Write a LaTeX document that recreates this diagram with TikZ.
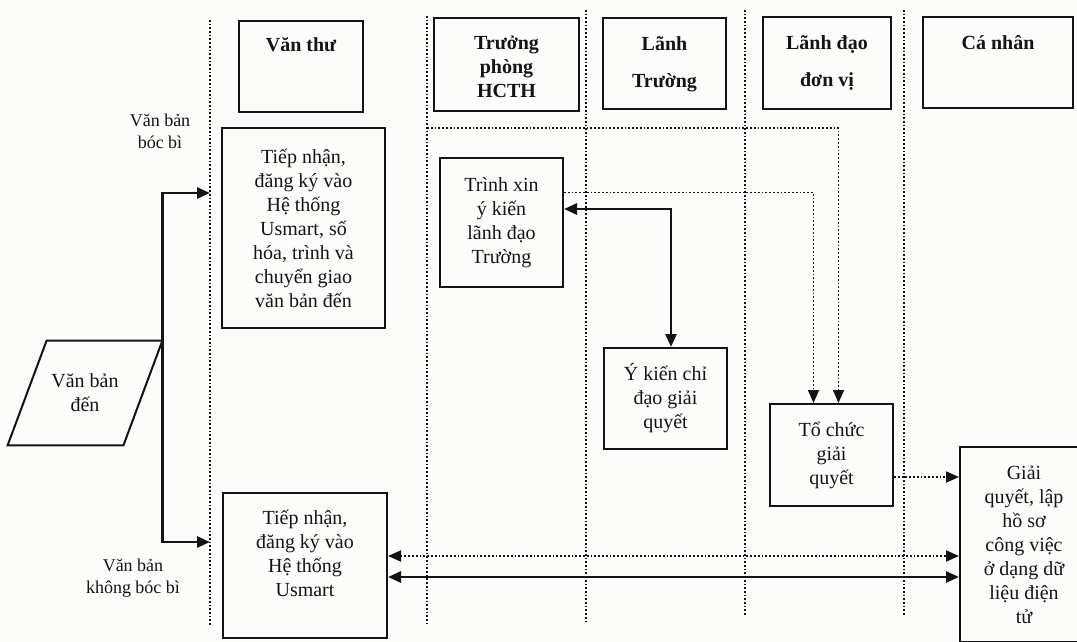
\documentclass[tikz,border=0pt]{standalone}
\usepackage{fontspec}
\setmainfont{Liberation Serif}
\usetikzlibrary{arrows.meta, positioning, calc}
\definecolor{ink}{HTML}{141414}
\definecolor{paper}{HTML}{FCFCFB}

\begin{document}
\begin{tikzpicture}[
  x=0.5pt, y=0.5pt,
  >={Triangle[length=6.5pt, width=5.5pt]},
  hdr/.style={
    draw=ink, line width=1pt, minimum width=#1, minimum height=45.5pt,
    inner sep=0pt
  },
  hdrtxt/.style={font=\fontsize{10}{12}\selectfont\bfseries, text=ink,
    align=center, inner sep=0pt},
  task/.style 2 args={
    draw=ink, line width=1pt, minimum width=#1, minimum height=#2,
    font=\fontsize{10}{12}\selectfont, text=ink, align=center, inner sep=2pt
  },
  lane/.style={ink, line width=0.85pt, densely dotted},
  arr/.style={->, line width=1.4pt, ink},
  darr/.style={->, line width=0.9pt, ink, densely dotted},
  note/.style={font=\fontsize{9}{11}\selectfont, text=ink, align=center},
]

% Background
\useasboundingbox (0,0) rectangle (1077,-642);
\fill[paper] (0,0) rectangle (1077,-642);

% Lanes
\foreach \lx/\ltop/\lbot in {210/20/625, 427/16/623, 586/10/623, 745/10/615, 904/10/615}
  \draw[lane] (\lx,-\ltop) -- (\lx,-\lbot);

% Header boxes
\node[hdr={62pt}] (h-vanthu) at (301,-66.5) {};
\node[hdrtxt, below=8.5pt of h-vanthu.north] (t-vanthu) {Văn thư};

\node[hdr={72.5pt}, minimum height=46.5pt] (h-hcth) at (506.5,-64.5) {};
\node[hdrtxt, below=9.5pt of h-hcth.north] (t-hcth) {Trưởng\\phòng\\HCTH};

\node[hdr={61.5pt}] (h-ltruong) at (664.5,-63.5) {};
\node[hdrtxt, below=9.5pt of h-ltruong.north] (t-ltruong) {Lãnh\\[6.5pt]Trường};

\node[hdr={64pt}, minimum height=46pt] (h-ldvi) at (827,-63) {};
\node[hdrtxt, below=9.5pt of h-ldvi.north] (t-ldvi) {Lãnh đạo\\[6.5pt]đơn vị};

\node[hdr={75pt}] (h-canhan) at (998,-62.5) {};
\node[hdrtxt, below=9.5pt of h-canhan.north] (t-canhan) {Cá nhân};

% Incoming document (parallelogram)
\node[minimum width=77pt, minimum height=52pt, inner sep=0pt, align=center,
  font=\fontsize{10}{12}\selectfont, text=ink] (vbd) at (85,-393)
  {Văn bản\\đến};
\draw[ink, line width=1pt] (vbd.south west) -- ([xshift=19.5pt]vbd.north west)
  -- (vbd.north east) -- ([xshift=-19.5pt]vbd.south east) -- cycle;

% Side notes
\node[note] (n-boc) at (160,-131) {Văn bản\\bóc bì};
\node[note] (n-khong) at (133,-578) {Văn bản\\không bóc bì};

% Task boxes
\node[task={81.5pt}{100pt}] (tn-boc) at (303.5,-228)
  {Tiếp nhận,\\đăng ký vào\\Hệ thống\\Usmart, số\\hóa, trình và\\chuyển giao\\văn bản đến};
\node[task={82pt}{72.5pt}] (tn-khong) at (305,-565.5)
  {Tiếp nhận,\\đăng ký vào\\Hệ thống\\Usmart\\\mbox{}};
\node[task={61.5pt}{64.5pt}] (trinh) at (501.5,-222.5)
  {Trình xin\\ý kiến\\lãnh đạo\\Trường};
\node[task={61.5pt}{50.5pt}] (ykien) at (665.5,-398.5)
  {Ý kiến chỉ\\đạo giải\\quyết};
\node[task={61.5pt}{51pt}] (tochuc) at (831.5,-455)
  {Tổ chức\\giải\\quyết};
\node[task={64pt}{97.5pt}] (gq) at (1024,-544.5)
  {Giải\\quyết, lập\\hồ sơ\\công việc\\ở dạng dữ\\liệu điện\\tử};

% Entry points on the first lane
\coordinate (in-boc) at (210,-193);
\coordinate (in-khong) at (210,-542);
\coordinate (hcth-top) at (427,-128);

% Incoming split
\draw[arr] (vbd.north east) |- (in-boc);
\draw[arr] (vbd.north east) |- (in-khong);

% Consultation
\draw[arr, <->] ([yshift=6.75pt]trinh.east) -| ([xshift=2.75pt]ykien.north);

% Dotted hand-offs
\draw[darr] (hcth-top) -| ([xshift=3.5pt]tochuc.north);
\draw[darr] ([yshift=15pt]trinh.east) -| ([xshift=-9pt]tochuc.north);
\draw[darr] ([yshift=-11pt]tochuc.east) -- ([yshift=-11pt]tochuc.east -| gq.west);

% Exchange with the individual
\draw[darr, <->] ([yshift=4.75pt]tn-khong.east) -- ([yshift=4.75pt]tn-khong.east -| gq.west);
\draw[arr, <->] ([yshift=-5.75pt]tn-khong.east) -- ([yshift=-5.75pt]tn-khong.east -| gq.west);

\end{tikzpicture}
\end{document}
